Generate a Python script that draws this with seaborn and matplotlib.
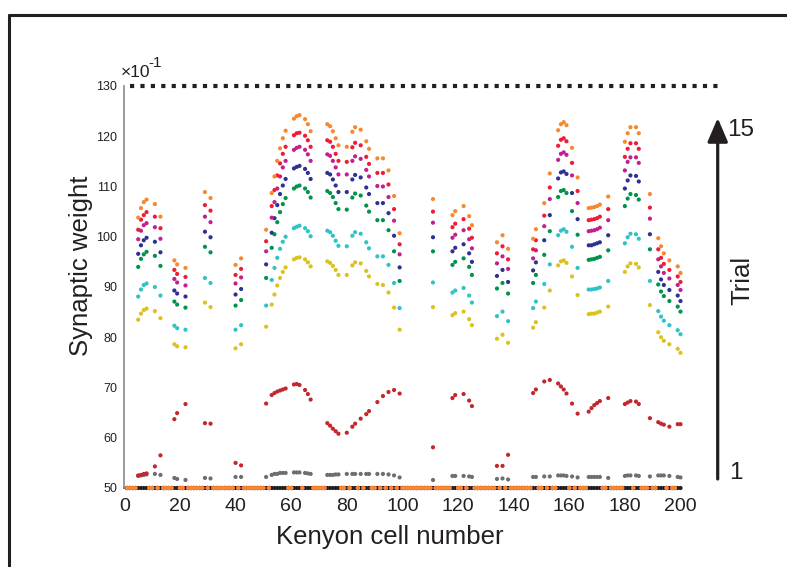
import numpy as np
import pandas as pd
import matplotlib
matplotlib.use("Agg")
import matplotlib.pyplot as plt
import seaborn as sns
from matplotlib.patches import FancyArrowPatch
from matplotlib.lines import Line2D

# Kenyon cells that respond to the odour (all others stay at the floor weight)
active_cells = [5, 6, 7, 8, 11, 13, 18, 19, 22, 29, 31, 40, 42,
                51, 53, 54, 55, 56, 57, 58,
                61, 62, 63, 65, 66, 67,
                73, 74, 75, 76, 77, 80, 82, 83, 85, 87, 88, 91, 93, 95, 97, 99,
                111, 118, 119, 122, 124, 125, 134, 136, 138, 147, 148, 151,
                153, 156, 157, 158, 159, 161, 163,
                167, 168, 169, 170, 171, 174,
                180, 181, 182, 184, 185,
                189, 192, 193, 194, 196, 199, 200]

n_cells = 200
floor_weight = 50.0

# Synaptic weight of the active cells after each trial (x10^-1)
w_trial2 = [52.4, 52.5, 52.6, 52.7, 52.8, 52.6, 52.0, 51.8, 51.6, 52.0, 51.9, 52.2, 52.2,
            52.2, 52.6, 52.8, 52.8, 53.0, 53.0, 53.0,
            53.1, 53.1, 53.1, 53.0, 52.9, 52.8,
            52.6, 52.6, 52.6, 52.7, 52.7, 52.8, 52.8, 52.8, 52.8, 52.8, 52.8, 52.8, 52.8, 52.7, 52.5, 52.1,
            51.6, 52.4, 52.4, 52.4, 52.3, 52.2, 51.8, 51.9, 51.7, 52.2, 52.2, 52.3,
            52.3, 52.5, 52.5, 52.5, 52.4, 52.3, 52.1,
            52.2, 52.2, 52.2, 52.2, 52.2, 52.0,
            52.4, 52.5, 52.5, 52.5, 52.4,
            52.3, 52.5, 52.5, 52.5, 52.4, 52.2, 52.1]
w_trial3 = [52.5, 52.6, 52.8, 52.9, 54.3, 56.5, 63.7, 64.9, 66.7, 62.9, 62.8, 55.0, 54.5,
            66.8, 68.5, 68.9, 69.2, 69.4, 69.6, 69.8,
            70.6, 70.7, 70.5, 69.5, 68.7, 67.6,
            62.9, 62.4, 61.8, 61.3, 60.8, 61.0, 62.2, 62.8, 63.8, 64.7, 65.3, 67.1, 68.3, 69.1, 69.5, 68.8,
            58.1, 67.9, 68.5, 68.7, 67.4, 66.3, 54.4, 54.4, 56.6, 68.9, 69.6, 71.2,
            71.5, 70.8, 70.2, 69.6, 68.8, 66.8, 64.8,
            65.2, 65.9, 66.5, 66.9, 67.3, 67.9,
            66.7, 67.0, 67.3, 67.2, 66.7,
            63.9, 63.1, 62.8, 62.6, 62.2, 62.7, 62.7]
w_trial4 = [83.5, 84.7, 85.4, 85.7, 85.2, 83.8, 78.6, 78.2, 78.0, 86.9, 86.0, 77.8, 78.6,
            82.1, 86.5, 88.5, 90.3, 91.8, 93.0, 93.9,
            95.5, 95.8, 95.9, 95.5, 94.9, 94.1,
            95.1, 94.8, 94.2, 93.4, 92.4, 92.4, 94.3, 94.9, 94.7, 93.2, 92.1, 90.6, 90.4, 88.9, 85.9, 81.5,
            86.0, 84.4, 84.8, 85.1, 83.6, 82.4, 79.7, 80.5, 78.9, 81.9, 83.0, 85.9,
            89.3, 94.3, 95.1, 95.3, 94.8, 92.1, 88.4,
            84.6, 84.7, 84.7, 84.9, 85.1, 86.1,
            93.0, 94.1, 94.7, 94.6, 93.9,
            86.4, 81.0, 80.0, 79.3, 78.6, 77.7, 76.9]
w_trial5 = [88.1, 89.5, 90.4, 90.7, 90.0, 88.3, 82.3, 81.8, 81.5, 91.8, 90.8, 81.5, 82.4,
            86.3, 91.4, 93.8, 95.8, 97.6, 99.0, 100.0,
            101.7, 102.0, 102.2, 101.7, 101.1, 100.1,
            101.2, 100.9, 100.2, 99.2, 98.2, 98.1, 100.2, 100.9, 100.6, 98.9, 97.7, 96.1, 96.1, 94.4, 90.8, 85.8,
            90.9, 88.9, 89.3, 89.8, 88.3, 86.9, 84.2, 85.1, 83.2, 85.8, 87.1, 90.6,
            94.5, 100.3, 101.2, 101.5, 101.0, 98.0, 93.8,
            89.5, 89.5, 89.6, 89.7, 89.9, 91.2,
            98.7, 99.9, 100.6, 100.5, 99.6,
            91.2, 85.2, 84.1, 83.3, 82.4, 81.4, 80.6]
w_trial6 = [94.0, 95.6, 96.5, 97.0, 96.2, 94.2, 87.1, 86.5, 85.9, 98.0, 96.9, 86.3, 87.4,
            91.8, 97.8, 100.5, 102.9, 104.9, 106.5, 107.7,
            109.6, 110.0, 110.2, 109.6, 108.9, 107.8,
            109.1, 108.7, 107.9, 106.7, 105.5, 105.4, 107.8, 108.6, 108.2, 106.2, 105.0, 103.3, 103.3, 101.3, 97.1, 91.2,
            97.1, 94.4, 95.0, 95.7, 94.0, 92.4, 89.7, 90.8, 88.7, 90.8, 92.4, 96.4,
            101.1, 107.9, 109.1, 109.3, 108.7, 105.1, 100.4,
            95.4, 95.5, 95.6, 95.8, 96.0, 97.3,
            106.1, 107.6, 108.5, 108.3, 107.4,
            97.5, 90.5, 89.1, 88.2, 87.2, 86.1, 85.1]
w_trial7 = [96.6, 98.3, 99.3, 99.8, 99.0, 96.9, 89.3, 88.7, 88.1, 101.0, 99.9, 88.5, 89.6,
            94.5, 100.8, 103.7, 106.3, 108.5, 110.2, 111.5,
            113.6, 113.9, 114.1, 113.5, 112.7, 111.5,
            112.7, 112.4, 111.4, 110.2, 108.9, 108.9, 111.4, 112.3, 111.8, 109.8, 108.5, 106.7, 106.7, 104.7, 100.2, 93.9,
            99.9, 97.1, 97.8, 98.5, 96.7, 95.0, 92.2, 93.4, 91.0, 93.3, 94.9, 99.3,
            104.3, 111.6, 112.8, 113.0, 112.5, 108.7, 103.5,
            98.3, 98.3, 98.5, 98.7, 98.9, 100.3,
            109.6, 111.2, 112.2, 112.1, 111.0,
            100.5, 93.0, 91.5, 90.4, 89.4, 88.3, 87.2]
w_trial8 = [99.5, 101.2, 102.3, 102.7, 101.9, 99.6, 91.6, 90.9, 90.3, 104.0, 102.9, 90.7, 91.9,
            97.1, 103.8, 106.9, 109.6, 112.0, 113.8, 115.1,
            117.3, 117.7, 117.9, 117.3, 116.4, 115.1,
            116.4, 116.1, 115.1, 113.8, 112.4, 112.4, 115.1, 116.0, 115.5, 113.3, 112.0, 110.1, 110.0, 107.9, 103.2, 96.5,
            102.8, 99.8, 100.4, 101.3, 99.5, 97.7, 94.7, 96.1, 93.6, 95.7, 97.3, 102.1,
            107.5, 115.3, 116.5, 116.8, 116.3, 112.2, 106.7,
            101.1, 101.2, 101.3, 101.5, 101.8, 103.3,
            113.2, 114.9, 115.8, 115.8, 114.7,
            103.6, 95.5, 94.1, 92.8, 91.7, 90.4, 89.4]
w_trial9 = [101.4, 103.4, 104.3, 104.9, 104.0, 101.7, 93.4, 92.6, 92.0, 106.3, 105.2, 92.4, 93.6,
            99.1, 106.1, 109.3, 112.2, 114.6, 116.5, 117.9,
            120.2, 120.6, 120.7, 120.1, 119.2, 117.9,
            119.2, 118.9, 117.9, 116.5, 115.1, 114.9, 117.8, 118.7, 118.2, 115.9, 114.5, 112.7, 112.7, 110.4, 105.5, 98.5,
            105.0, 101.9, 102.6, 103.5, 101.6, 99.8, 96.7, 98.1, 95.5, 97.5, 99.3, 104.2,
            109.8, 118.1, 119.3, 119.6, 119.0, 114.7, 109.1,
            103.3, 103.4, 103.5, 103.7, 104.0, 105.5,
            115.9, 117.5, 118.6, 118.6, 117.5,
            105.8, 97.5, 95.8, 94.6, 93.4, 92.1, 91.0]
w_trial10 = [103.8, 105.7, 106.9, 107.4, 106.5, 104.0, 95.3, 94.5, 93.8, 108.9, 107.7, 94.4, 95.7,
             101.4, 108.7, 112.0, 115.1, 117.6, 119.6, 121.1,
             123.5, 124.0, 124.2, 123.4, 122.4, 121.0,
             122.4, 122.0, 121.0, 119.6, 118.2, 117.9, 120.9, 121.8, 121.3, 119.0, 117.5, 115.6, 115.6, 113.2, 108.1, 100.7,
             107.5, 104.3, 105.1, 106.1, 104.1, 102.3, 98.9, 100.3, 97.6, 99.6, 101.5, 106.7,
             112.6, 121.2, 122.4, 122.8, 122.2, 117.7, 111.8,
             105.7, 105.8, 105.9, 106.1, 106.4, 108.0,
             118.9, 120.6, 121.8, 121.8, 120.6,
             108.5, 99.7, 98.1, 96.7, 95.3, 94.1, 92.8]

# Upper bound of the synaptic weight
w_max = 130.0

trial_weights = {
    "1": None,
    "2": w_trial2, "3": w_trial3, "4": w_trial4, "5": w_trial5, "6": w_trial6,
    "7": w_trial7, "8": w_trial8, "9": w_trial9, "10": w_trial10,
}
trial_colors = {
    "1": "#231f20", "2": "#6d6e71", "3": "#c1272d", "4": "#dcc21f", "5": "#2fc3c6",
    "6": "#00934a", "7": "#2e3192", "8": "#c2208f", "9": "#ee1d35", "10": "#f6882e",
}

# long table: every cell for every trial, in plotting order
cells_all = np.arange(1, n_cells + 1)
idx = np.array(active_cells) - 1
rows = []
for trial, vals in trial_weights.items():
    w = np.full(n_cells, floor_weight)
    if vals is not None:
        w[idx] = vals
    rows.append(pd.DataFrame({"cell": cells_all, "weight": w, "trial": trial}))
df = pd.concat(rows, ignore_index=True)

sns.set_theme(style="white")
plt.rcParams["font.family"] = ["Liberation Sans", "DejaVu Sans"]

W, H = 787, 567
fig = plt.figure(figsize=(W / 100, H / 100), dpi=100)


def fx(px):
    return px / W


def fy(py):
    return 1 - py / H


x_left, x_right, y_top, y_bot = 124.3, 680.5, 86.0, 488.0
ax = fig.add_axes([fx(x_left), fy(y_bot), fx(x_right) - fx(x_left), fy(y_top) - fy(y_bot)])

sns.scatterplot(data=df, x="cell", y="weight", hue="trial", palette=trial_colors,
                hue_order=list(trial_colors), s=9, linewidth=0, legend=False, ax=ax)
for coll in ax.collections:
    coll.set_clip_on(False)

# maximum-weight line
ax.plot([2, 215], [w_max, w_max], color="#231f20", lw=3, ls=(0, (1, 1.5)),
        dash_capstyle="butt", clip_on=False)

ax.set_xlim(0, 200)
ax.set_ylim(50, 130)
ax.set_xticks(np.arange(0, 201, 20))
ax.set_yticks(np.arange(50, 131, 10))
ax.set_xlabel("")
ax.set_ylabel("")
for side in ("top", "right"):
    ax.spines[side].set_visible(False)
ax.spines["left"].set_color("#8a8a8a")
ax.spines["left"].set_linewidth(1.2)
ax.spines["bottom"].set_color("#231f20")
ax.spines["bottom"].set_zorder(0.5)
ax.tick_params(axis="x", direction="in", length=4, width=1, color="#231f20",
               labelsize=14, pad=7, labelcolor="#231f20")
ax.tick_params(axis="y", direction="in", length=3, width=1, color="#231f20",
               labelsize=9, pad=5, labelcolor="#231f20")
ax.patch.set_alpha(0)

# axis titles and exponent
fig.text(fx(390), fy(537), "Kenyon cell number", fontsize=18.5, ha="center", va="center",
         color="#231f20")
fig.text(fx(81), fy(266), "Synaptic weight", fontsize=18.5, ha="center", va="center",
         rotation=90, color="#231f20")
fig.text(fx(121), fy(77), "×10", fontsize=12.5, ha="left", va="baseline", color="#231f20")
fig.text(fx(148), fy(67), "-1", fontsize=11, ha="left", va="baseline", color="#231f20")

# trial arrow
arrow = FancyArrowPatch((fx(717.7), fy(479)), (fx(717.7), fy(118)),
                        transform=fig.transFigure, arrowstyle="-|>",
                        mutation_scale=1, color="#231f20", lw=2.3,
                        shrinkA=0, shrinkB=0)
arrow.set_arrowstyle("-|>", head_length=14.5, head_width=6.2)
fig.add_artist(arrow)
fig.text(fx(727), fy(136), "15", fontsize=17.5, ha="left", va="baseline", color="#231f20")
fig.text(fx(729), fy(479), "1", fontsize=17.5, ha="left", va="baseline", color="#231f20")
fig.text(fx(742), fy(280), "Trial", fontsize=18.5, ha="center", va="center",
         rotation=90, color="#231f20")

# panel frame
fig.add_artist(Line2D([fx(9), 1.0], [fy(15), fy(15)], transform=fig.transFigure,
                      color="#231f20", lw=2.2))
fig.add_artist(Line2D([fx(9), fx(9)], [fy(15), 0.0], transform=fig.transFigure,
                      color="#231f20", lw=2.2))

fig.savefig("out.png", dpi=100)
